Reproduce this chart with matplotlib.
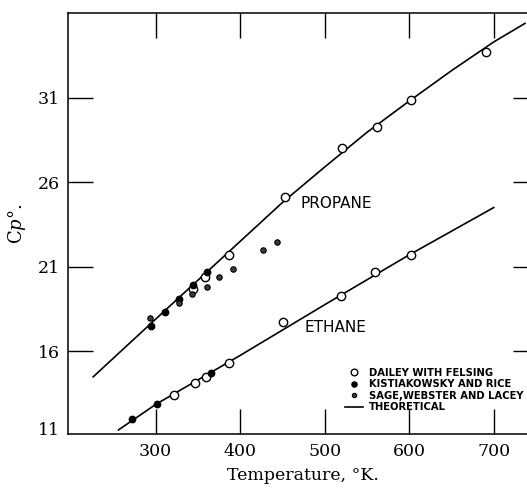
"""
Heat capacity of ethane and propane vs temperature
"""

import matplotlib
matplotlib.use('Agg')
import matplotlib.pyplot as plt

# ------------ DATA -------------- #
# Dailey with Felsing (open circles)
propane_dailey_T = [343.7, 357.8, 387.0, 452.8, 520.5, 561.8, 601.6, 691.3]
propane_dailey_cp = [19.66, 20.40, 21.70, 25.13, 28.00, 29.24, 30.86, 33.71]
ethane_dailey_T = [322.0, 346.1, 359.1, 386.2, 450.8, 518.9, 559.8, 601.6]
ethane_dailey_cp = [13.41, 14.12, 14.46, 15.29, 17.74, 19.28, 20.70, 21.71]

# Kistiakowsky and Rice (filled)
propane_kist_T = [294.6, 311.4, 327.0, 344.2, 360.4]
propane_kist_cp = [17.49, 18.34, 19.09, 19.90, 20.67]
ethane_kist_T = [272.4, 301.2, 365.0]
ethane_kist_cp = [11.97, 12.86, 14.69]

# Sage, Webster and Lacey (small dots)
propane_sage_T = [293.8, 327.0, 342.6, 360.2, 374.6, 391.4, 427.2, 443.3]
propane_sage_cp = [17.95, 18.83, 19.38, 19.82, 20.37, 20.85, 21.99, 22.48]

# Theoretical curves
propane_theo_T = [226, 300, 350, 400, 450, 500, 550, 600, 650, 700, 737]
propane_theo_cp = [14.48, 17.90, 20.20, 22.50, 24.80, 26.90, 28.95, 30.80, 32.60, 34.30, 35.40]
ethane_theo_T = [256, 300, 400, 500, 600, 700]
ethane_theo_cp = [11.34, 12.85, 15.75, 18.75, 21.70, 24.50]

x_ticks = [300, 400, 500, 600, 700]
y_ticks = [16, 21, 26, 31]

# ----------- PLOT -----------------#
plt.rcParams['mathtext.fontset'] = 'dejavuserif'
serif = 'DejaVu Serif'

fig = plt.figure(figsize=(5.27, 4.88), dpi=100)
ax = fig.add_axes([0.1296, 0.110, 0.8913, 0.8643])

ax.plot(propane_theo_T, propane_theo_cp, color='black', lw=1.2, label='THEORETICAL', zorder=2)
ax.plot(ethane_theo_T, ethane_theo_cp, color='black', lw=1.2, zorder=2)

ax.plot(propane_dailey_T, propane_dailey_cp, 'o', ms=6, mfc='white', mec='black', mew=1.0,
        label='DAILEY WITH FELSING', zorder=3)
ax.plot(ethane_dailey_T, ethane_dailey_cp, 'o', ms=6, mfc='white', mec='black', mew=1.0, zorder=3)

ax.plot(propane_kist_T, propane_kist_cp, 'o', ms=4.6, mfc='black', mec='black',
        label='KISTIAKOWSKY AND RICE', zorder=4)
ax.plot(ethane_kist_T, ethane_kist_cp, 'o', ms=4.6, mfc='black', mec='black', zorder=4)

ax.plot(propane_sage_T, propane_sage_cp, 'o', ms=3.9, mfc='#3a3a3a', mec='black', mew=0.8,
        label='SAGE,WEBSTER AND LACEY', zorder=4)

ax.text(470.8, 24.71, 'PROPANE', fontsize=11, family='DejaVu Sans', va='center', ha='left')
ax.text(475.9, 17.41, 'ETHANE', fontsize=11, family='DejaVu Sans', va='center', ha='left')

ax.set_xlim(196.6, 752.4)
ax.set_ylim(11.08, 36.04)

ax.set_xticks(x_ticks)
ax.set_xticklabels([str(t) for t in x_ticks], family=serif, fontsize=12.5)
ax.set_yticks(y_ticks)
ax.set_yticklabels([str(t) for t in y_ticks], family=serif, fontsize=12.5)
# the '11' label sits just above the bottom edge, with no tick mark
ax.set_yticks([11.45], labels=['11'], minor=True)
for lab in ax.get_yticklabels(minor=True):
    lab.set_family(serif)
    lab.set_fontsize(12.5)

ax.tick_params(which='major', direction='in', length=18, width=1.0,
               top=True, right=True, pad=6)
ax.tick_params(which='minor', length=0, pad=6)
for sp in ax.spines.values():
    sp.set_linewidth(1.1)

ax.set_xlabel('Temperature, °K.', family=serif, fontsize=12.5, labelpad=5)
ax.set_ylabel(r'C$\mathit{p}$°.', family=serif, fontsize=13, labelpad=7)

order = ['DAILEY WITH FELSING', 'KISTIAKOWSKY AND RICE', 'SAGE,WEBSTER AND LACEY', 'THEORETICAL']
handles, labels = ax.get_legend_handles_labels()
pairs = dict(zip(labels, handles))
leg = ax.legend([pairs[k] for k in order], order, loc='upper left',
                bbox_to_anchor=(0.589, 0.158), frameon=False, borderpad=0,
                borderaxespad=0, handlelength=1.8, handletextpad=0.6,
                labelspacing=0.15, markerscale=0.8,
                prop={'family': 'DejaVu Sans', 'weight': 'bold', 'size': 7.2})

plt.savefig('out.png', dpi=100)
